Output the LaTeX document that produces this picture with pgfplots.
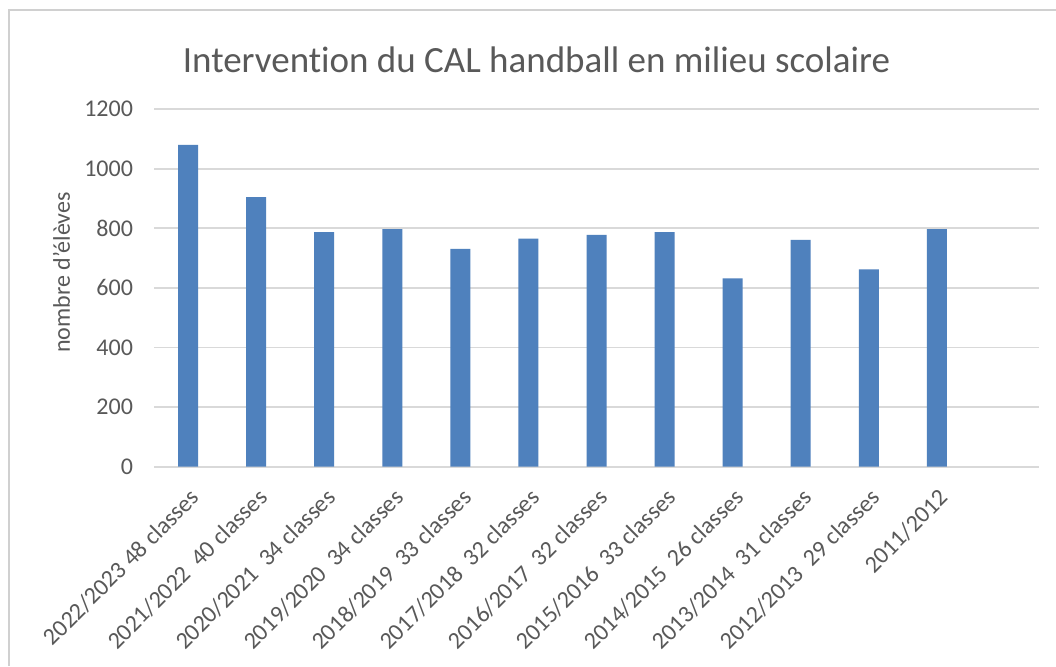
\documentclass[border=0pt]{standalone}
\usepackage{fontspec}
\setmainfont{Carlito}[Ligatures=NoCommon]
\usepackage{pgfplots}
\pgfplotsset{compat=1.18}
\definecolor{barblue}{HTML}{4F81BD}
\definecolor{gridgray}{HTML}{D9D9D9}
\definecolor{txtgray}{HTML}{595959}
\definecolor{framegray}{HTML}{D0D0D0}
\begin{document}
\begin{tikzpicture}[x=1pt,y=1pt]
\useasboundingbox (0,0) rectangle (528,333);
\fill[white] (0,0) rectangle (528,333);
\draw[framegray, line width=1.2pt] (4.5,0) -- (4.5,328) -- (528,328);
\begin{axis}[
  at={(77pt,99.65pt)}, anchor=south west,
  scale only axis, width=442.5pt, height=178.85pt,
  xmin=-0.5, xmax=12.5, ymin=0, ymax=1200,
  ytick={0,200,...,1200},
  xtick={0,...,11},
  xticklabels={2022/2023 48 classes,2021/2022\ \ 40 classes,2020/2021\ \ 34 classes,2019/2020\ \ 34 classes,2018/2019\ \ 33 classes,2017/2018\ \ 32 classes,2016/2017\ \ 32 classes,2015/2016\ \ 33 classes,2014/2015\ \ 26 classes,2013/2014\ \ 31 classes,2012/2013\ \ 29 classes,2011/2012},
  axis x line*=bottom, axis y line*=left,
  x axis line style={gridgray, line width=0.9pt, -},
  y axis line style={draw=none},
  ymajorgrids, grid style={gridgray, line width=0.9pt},
  major tick length=0pt,
  /pgf/number format/assume math mode=true,
  /pgf/number format/1000 sep={},
  ticklabel style={font=\fontsize{12}{14}\selectfont, text=txtgray},
  yticklabel style={anchor=east, xshift=-7pt},
  xticklabel style={rotate=45, anchor=east, yshift=-12pt, xshift=-3.5pt},
  ybar, bar width=10pt,
  clip=false,
]
\addplot[fill=barblue, draw=none] coordinates {
(0,1080) (1,904) (2,787) (3,797) (4,731) (5,765) (6,778) (7,787) (8,632) (9,761) (10,662) (11,797)
};
\end{axis}
\node[anchor=base, text=txtgray, font=\fontsize{18.5}{22}\selectfont] at (268.25,297) {Intervention du CAL handball en milieu scolaire};
\node[rotate=90, text=txtgray, font=\fontsize{12}{14}\selectfont] at (30.75,196.75) {nombre d'élèves};
\end{tikzpicture}
\end{document}
